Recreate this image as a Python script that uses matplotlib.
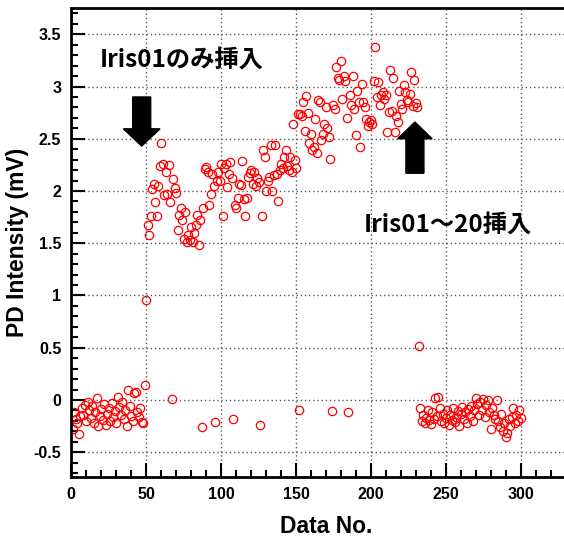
import matplotlib
matplotlib.use("Agg")
import matplotlib.pyplot as plt
from matplotlib.patches import FancyArrow
from matplotlib.ticker import MultipleLocator
import numpy as np

# PD intensity per data number (1..300)
before_insert = [
    -0.28, -0.12, -0.18, -0.22, -0.33, -0.15, -0.08, -0.14, -0.05, -0.20,
    -0.02, -0.10, -0.17, -0.06, -0.22, -0.12, 0.02, -0.25, -0.15, -0.09,
    -0.19, -0.04, -0.24, -0.13, -0.08, -0.20, -0.03, -0.16, -0.11, -0.22,
    0.03, -0.07, -0.14, -0.02, -0.18, -0.10, -0.25, 0.10, -0.06, -0.15,
    -0.20, 0.07, 0.08, -0.12, -0.16, -0.08, -0.21, -0.22,
    0.14, 0.96,
]
iris01_only = [
    1.67, 1.58, 1.76, 2.02, 2.07, 1.89, 1.76, 2.05, 2.24, 2.46,
    2.26, 1.96, 2.18, 1.97, 2.25, 1.89,
    0.01,
    2.11, 2.03, 1.98, 1.63, 1.77, 1.84, 1.72, 1.54, 1.80, 1.51,
    1.58, 1.53, 1.66, 1.51, 1.60, 1.67, 1.77, 1.48, 1.72,
    -0.26,
    1.84, 2.21, 2.23, 2.18, 1.87, 1.97, 2.16, 2.05,
    -0.21,
    2.10, 2.18, 2.10, 2.26, 1.76, 2.22, 2.26, 2.04, 2.16, 2.28, 2.12,
    -0.18,
    1.87, 1.84, 1.93, 2.07, 2.06, 2.29, 1.92, 1.76, 1.93, 2.13,
    2.17, 2.20, 2.07, 2.18, 2.05, 2.12, 2.09,
    -0.24,
    1.76, 2.39, 2.33, 2.00, 2.10, 2.13, 2.44, 2.00, 2.15, 2.44,
    2.16, 1.90, 2.20, 2.26, 2.22, 2.33, 2.39, 2.24, 2.20, 2.33,
    2.18, 2.64, 2.30, 2.22, 2.74,
    -0.10,
    2.74, 2.72, 2.85, 2.57, 2.91, 2.75, 2.46, 2.55, 2.39, 2.42,
    2.69, 2.36, 2.87, 2.85, 2.49, 2.55, 2.64, 2.80, 2.60, 2.52, 2.31,
    -0.11,
    2.82, 2.78, 3.19, 3.08, 3.06, 3.24, 2.88, 3.10, 3.05, 2.70,
    -0.12,
    2.92, 2.82, 3.10, 2.78, 2.54, 2.96, 2.85, 2.42, 3.02, 2.85,
    2.80, 2.69, 2.62, 2.66, 2.68, 2.64, 3.05, 3.38, 2.90, 3.04,
    2.82, 2.92, 2.95, 2.88, 2.92, 2.56, 2.76, 3.16, 2.77, 3.08,
    2.56, 2.72, 2.66, 2.96, 2.83, 2.78, 3.01, 2.95, 2.87, 2.85,
    2.93, 3.14, 2.81, 3.06, 2.84, 2.80,
]
after_insert = [
    0.52,
    -0.08, -0.20, -0.14, -0.22, -0.17, -0.10, -0.19, -0.23, -0.12, -0.18,
    0.02, -0.15, 0.03, -0.08, -0.20, -0.13, -0.22, -0.17, -0.10, -0.24,
    -0.14, -0.19, -0.08, -0.21, -0.16, -0.11, -0.25, -0.13, -0.07, -0.18,
    -0.12, -0.22, -0.09, -0.15, -0.06, -0.20, -0.10, 0.02, -0.04, -0.14,
    -0.02, -0.10, 0.01, -0.16, -0.05, 0.00, -0.12, -0.28, -0.08, -0.14,
    -0.18, 0.00, -0.20, -0.26, -0.13, -0.30, -0.22, -0.35, -0.32, -0.18,
    -0.25, -0.16, -0.08, -0.22, -0.14, -0.20, -0.10, -0.17,
]
intensity = np.array(before_insert + iris01_only + after_insert)
data_no = np.arange(1, len(intensity) + 1)

label_iris01 = "Iris01のみ挿入"
label_iris_all = "Iris01～20挿入"

plt.rcParams["font.family"] = ["Liberation Sans", "DejaVu Sans"]
cjk = ["Noto Sans CJK JP", "DejaVu Sans"]

fig = plt.figure(figsize=(5.64, 5.37), dpi=100)
ax = fig.add_axes([0.126, 0.112, 0.904, 0.874])

ax.plot(data_no, intensity, "o", ms=6, mfc="none", mec="#ff0000", mew=0.9)

ax.set_xlim(0, 340)
ax.set_ylim(-0.736, 3.756)
ax.xaxis.set_major_locator(MultipleLocator(50))
ax.xaxis.set_minor_locator(MultipleLocator(10))
ax.yaxis.set_major_locator(MultipleLocator(0.5))
ax.yaxis.set_minor_locator(MultipleLocator(0.1))
ax.set_xticks(np.arange(0, 301, 50))
ax.set_xticklabels([str(v) for v in range(0, 301, 50)])
ax.set_yticks(np.arange(-0.5, 3.51, 0.5))
ax.set_yticklabels(["-0.5", "0", "0.5", "1", "1.5", "2", "2.5", "3", "3.5"])

ax.grid(True, which="major", color="0.35", lw=1.0, ls=(0, (1, 2)))
ax.tick_params(which="both", direction="in", width=1.5, labelsize=11.5)
ax.tick_params(which="major", length=10, pad=7)
ax.tick_params(which="minor", length=5)
for lab in ax.get_xticklabels() + ax.get_yticklabels():
    lab.set_fontweight("bold")
for side in ("left", "bottom", "top", "right"):
    ax.spines[side].set_linewidth(2.0)

ax.set_xlabel("Data No.", fontsize=16.5, fontweight="bold", labelpad=10)
ax.set_ylabel("PD Intensity (mV)", fontsize=16.5, fontweight="bold", labelpad=3)

ax.text(19, 3.26, label_iris01, fontsize=17.5, fontweight="bold", family=cjk,
        va="center", ha="left")
ax.text(195, 1.68, label_iris_all, fontsize=17.5, fontweight="bold", family=cjk,
        va="center", ha="left")

ax.add_patch(FancyArrow(47.1, 2.90, 0, -0.47, width=12, head_width=24.5,
                        head_length=0.165, length_includes_head=True,
                        color="black", zorder=5))
ax.add_patch(FancyArrow(229.3, 2.17, 0, 0.49, width=12, head_width=23,
                        head_length=0.16, length_includes_head=True,
                        color="black", zorder=5))

fig.savefig("out.png", dpi=100)
